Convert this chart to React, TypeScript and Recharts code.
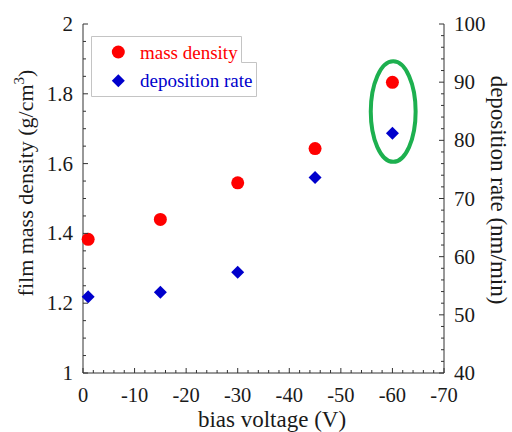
import React from 'react';
import { ScatterChart, Scatter, XAxis, YAxis, ReferenceArea, Legend } from 'recharts';

// values
const biasVoltage = [-1, -15, -30, -45, -60];
const massDensity = [1.383, 1.44, 1.545, 1.643, 1.833];
const depositionRate = [53.1, 53.9, 57.3, 73.6, 81.2];

const xMajorTicks = [0, -10, -20, -30, -40, -50, -60, -70];
const densityMajorTicks = [1, 1.2, 1.4, 1.6, 1.8, 2];
const rateMajorTicks = [40, 50, 60, 70, 80, 90, 100];

// minor ticks split every major interval
const withMinors = (majors: number[], parts: number) => {
  const out: number[] = [];
  for (let i = 0; i < majors.length - 1; i++) {
    const step = (majors[i + 1] - majors[i]) / parts;
    for (let k = 0; k < parts; k++) out.push(Number((majors[i] + k * step).toFixed(4)));
  }
  out.push(majors[majors.length - 1]);
  return out;
};

const xTicks = withMinors(xMajorTicks, 5);
const densityTicks = withMinors(densityMajorTicks, 4);
const rateTicks = withMinors(rateMajorTicks, 5);

const massData = biasVoltage.map((v, i) => ({ bias: v, density: massDensity[i] }));
const rateData = biasVoltage.map((v, i) => ({ bias: v, rate: depositionRate[i] }));

const FONT = '"Liberation Serif", "Times New Roman", serif';
const AXIS = '#333';
const TEXT = '#1a1a1a';

const isMajor = (v: number, majors: number[]) => majors.some((m) => Math.abs(m - v) < 1e-6);
const fmt = (v: number) => String(Number(v.toFixed(2)));

const BottomTick = ({ x, y, payload }: any) => {
  const major = isMajor(payload.value, xMajorTicks);
  return (
    <g>
      <line x1={x} x2={x} y1={y} y2={y - (major ? 5 : 3)} stroke={AXIS} />
      {major && (
        <text x={x} y={y + 29} textAnchor="middle" fontFamily={FONT} fontSize={20.5} fill={TEXT}>
          {fmt(payload.value)}
        </text>
      )}
    </g>
  );
};

const TopTick = ({ x, y, payload }: any) => {
  const major = isMajor(payload.value, xMajorTicks);
  return <line x1={x} x2={x} y1={y} y2={y + (major ? 5 : 3)} stroke={AXIS} />;
};

const LeftTick = ({ x, y, payload }: any) => {
  const major = isMajor(payload.value, densityMajorTicks);
  return (
    <g>
      <line x1={x} x2={x + (major ? 5 : 3)} y1={y} y2={y} stroke={AXIS} />
      {major && (
        <text x={x - 10} y={y + 7} textAnchor="end" fontFamily={FONT} fontSize={21} fill={TEXT}>
          {fmt(payload.value)}
        </text>
      )}
    </g>
  );
};

const RightTick = ({ x, y, payload }: any) => {
  const major = isMajor(payload.value, rateMajorTicks);
  return (
    <g>
      <line x1={x} x2={x - (major ? 5 : 3)} y1={y} y2={y} stroke={AXIS} />
      {major && (
        <text x={x + 10} y={y + 7} textAnchor="start" fontFamily={FONT} fontSize={21} fill={TEXT}>
          {fmt(payload.value)}
        </text>
      )}
    </g>
  );
};

const RedDot = ({ cx, cy }: any) => <circle cx={cx} cy={cy} r={6.5} fill="#ff0000" />;
const BlueDiamond = ({ cx, cy }: any) => (
  <path d={`M${cx},${cy - 6.5}L${cx + 6.5},${cy}L${cx},${cy + 6.5}L${cx - 6.5},${cy}Z`} fill="#0000cc" />
);

const Highlight = ({ x, y, width, height }: any) => (
  <ellipse
    cx={x + width / 2}
    cy={y + height / 2}
    rx={Math.abs(width) / 2}
    ry={Math.abs(height) / 2}
    fill="none"
    stroke="#1db04f"
    strokeWidth={4}
  />
);

const renderLegend = ({ payload }: any) => {
  // circle (mass density) row first, as in the original
  const items = [...(payload || [])].sort(
    (a: any, b: any) => (a.type === 'circle' ? 0 : 1) - (b.type === 'circle' ? 0 : 1)
  );
  return (
    <svg width={170} height={66}>
      <path d="M1.5,2.5H151.5V28.5H166.5V62.5H1.5Z" fill="#fff" stroke="#c4c4c4" />
      {items.map((item: any, i: number) => {
        const cy = i === 0 ? 18 : 46.7;
        return (
          <g key={item.value}>
            {item.type === 'diamond' ? (
              <BlueDiamond cx={28.3} cy={cy} />
            ) : (
              <RedDot cx={28.3} cy={cy} />
            )}
            <text x={50} y={cy + 6.5} fontFamily={FONT} fontSize={19} fill={item.color}>
              {item.value}
            </text>
          </g>
        );
      })}
    </svg>
  );
};

const LeftTitle = () => (
  <text
    transform="translate(33,183) rotate(-90)"
    textAnchor="middle"
    fontFamily={FONT}
    fontSize={22}
    fill={TEXT}
  >
    film mass density (g/cm<tspan dy={-9} fontSize={15}>3</tspan>
    <tspan dy={9}>)</tspan>
  </text>
);

const RightTitle = () => (
  <text
    transform="translate(491,190) rotate(90)"
    textAnchor="middle"
    fontFamily={FONT}
    fontSize={23}
    fill={TEXT}
  >
    deposition rate (nm/min)
  </text>
);

const BottomTitle = () => (
  <text x={272} y={427} textAnchor="middle" fontFamily={FONT} fontSize={23} fill={TEXT}>
    bias voltage (V)
  </text>
);

const App: React.FC = () => {
  return (
    <div style={{ position: 'absolute', left: 0, top: 0, background: '#fff' }}>
      <ScatterChart width={512} height={432} margin={{ top: 24, right: 0, bottom: 0, left: 0 }}>
        <XAxis
          dataKey="bias"
          type="number"
          domain={[-70, 0]}
          reversed
          ticks={xTicks}
          interval={0}
          height={59}
          tickSize={0}
          tickMargin={0}
          tick={<BottomTick />}
          stroke={AXIS}
          label={<BottomTitle />}
        />
        <XAxis
          xAxisId="top"
          orientation="top"
          dataKey="bias"
          type="number"
          domain={[-70, 0]}
          reversed
          ticks={xTicks}
          interval={0}
          height={0}
          tickSize={0}
          tickMargin={0}
          tick={<TopTick />}
          stroke={AXIS}
        />
        <YAxis
          yAxisId="left"
          dataKey="density"
          type="number"
          domain={[1, 2]}
          ticks={densityTicks}
          interval={0}
          width={83}
          tickSize={0}
          tickMargin={0}
          tick={<LeftTick />}
          stroke={AXIS}
          label={<LeftTitle />}
        />
        <YAxis
          yAxisId="right"
          orientation="right"
          dataKey="rate"
          type="number"
          domain={[40, 100]}
          ticks={rateTicks}
          interval={0}
          width={68}
          tickSize={0}
          tickMargin={0}
          tick={<RightTick />}
          stroke={AXIS}
          label={<RightTitle />}
        />
        <ReferenceArea
          yAxisId="left"
          x1={-55.8}
          x2={-64.5}
          y1={1.605}
          y2={1.893}
          shape={<Highlight />}
        />
        <Scatter
          name="mass density"
          data={massData}
          yAxisId="left"
          fill="#ff0000"
          legendType="circle"
          shape={<RedDot />}
          isAnimationActive={false}
        />
        <Scatter
          name="deposition rate"
          data={rateData}
          yAxisId="right"
          fill="#0000cc"
          legendType="diamond"
          shape={<BlueDiamond />}
          isAnimationActive={false}
        />
        <Legend
          layout="horizontal"
          verticalAlign="middle"
          align="center"
          wrapperStyle={{ left: 90, top: 34, width: 170, height: 66 }}
          content={renderLegend}
        />
      </ScatterChart>
    </div>
  );
};

export default App;
